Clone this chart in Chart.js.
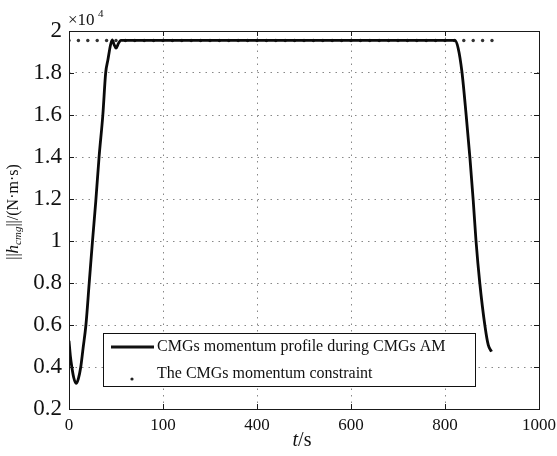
<!DOCTYPE html>
<html lang="en">
<head>
<meta charset="UTF-8">
<title>CMGs momentum</title>
<script src="https://cdn.jsdelivr.net/npm/chart.js"></script>
<style>
  html, body { margin: 0; padding: 0; background: #fff; }
  #wrap { width: 557px; height: 456px; }
</style>
</head>
<body>
<div id="wrap"><canvas id="momentumChart" width="557" height="456"></canvas></div>
<script>
// momentum norm of the CMG cluster, in units of 1e4 N·m·s
const profileTime = [0, 3, 6, 10, 15, 20, 25, 30, 36, 43, 50, 57, 64, 72, 78, 83, 88, 92, 96, 100, 105, 110,
  200, 400, 600, 800, 821, 828, 836, 845, 853, 860, 866, 874, 885, 892, 899];
const profileValue = [0.525, 0.45, 0.40, 0.35, 0.322, 0.345, 0.40, 0.49, 0.60, 0.80, 1.0, 1.19, 1.40, 1.60, 1.80, 1.865, 1.93, 1.958, 1.935, 1.918, 1.94, 1.955,
  1.955, 1.955, 1.955, 1.955, 1.955, 1.918, 1.806, 1.6, 1.397, 1.195, 1.0, 0.8, 0.595, 0.505, 0.473];

// constraint samples
const constraintTime = [0, 20, 40, 60, 80, 100, 120, 140, 160, 180, 200, 220, 240, 260, 280, 300, 320, 340, 360, 380,
  400, 420, 440, 460, 480, 500, 520, 540, 560, 580, 600, 620, 640, 660, 680, 700, 720, 740, 760, 780,
  800, 820, 840, 860, 880, 900];
const constraintValue = 1.955;

const xTickValues = [0, 200, 400, 600, 800, 1000];
const xTickLabels = ['0', '100', '400', '600', '800', '1000'];
const yTickValues = [0.2, 0.4, 0.6, 0.8, 1, 1.2, 1.4, 1.6, 1.8, 2];
const yTickLabels = ['0.2', '0.4', '0.6', '0.8', '1', '1.2', '1.4', '1.6', '1.8', '2'];

const seriesNames = ['CMGs momentum profile during CMGs AM', 'The CMGs momentum constraint'];

const serif = "'Liberation Serif', 'Times New Roman', serif";

// box, inward ticks, legend and axis titles
const decorations = {
  id: 'decorations',
  afterDraw(chart) {
    const { ctx, chartArea: a, scales } = chart;
    ctx.save();

    ctx.strokeStyle = '#1a1a1a';
    ctx.lineWidth = 1;
    ctx.beginPath();
    xTickValues.forEach(v => {
      const x = Math.round(scales.x.getPixelForValue(v)) + 0.5;
      ctx.moveTo(x, a.bottom); ctx.lineTo(x, a.bottom - 5);
      ctx.moveTo(x, a.top); ctx.lineTo(x, a.top + 5);
    });
    yTickValues.forEach(v => {
      const y = Math.round(scales.y.getPixelForValue(v)) + 0.5;
      ctx.moveTo(a.left, y); ctx.lineTo(a.left + 5, y);
      ctx.moveTo(a.right, y); ctx.lineTo(a.right - 5, y);
    });
    ctx.stroke();
    ctx.strokeRect(Math.round(a.left) + 0.5, Math.round(a.top) + 0.5,
      Math.round(a.right - a.left), Math.round(a.bottom - a.top));

    // legend
    const lx = 103.5, ly = 333.5, lw = 372, lh = 53;
    ctx.fillStyle = '#fff';
    ctx.fillRect(lx, ly, lw, lh);
    ctx.strokeStyle = '#111';
    ctx.strokeRect(lx, ly, lw, lh);
    ctx.lineWidth = 2.8;
    ctx.beginPath();
    ctx.moveTo(111, 347); ctx.lineTo(154, 347);
    ctx.stroke();
    ctx.fillStyle = '#222';
    ctx.beginPath();
    ctx.arc(132, 379, 1.6, 0, Math.PI * 2);
    ctx.fill();
    ctx.fillStyle = '#111';
    ctx.font = '16px ' + serif;
    ctx.textBaseline = 'middle';
    ctx.textAlign = 'left';
    ctx.fillText(seriesNames[0], 157, 347);
    ctx.fillText(seriesNames[1], 157, 374);

    // exponent over the y axis
    ctx.textBaseline = 'alphabetic';
    ctx.font = '17px ' + serif;
    ctx.fillText('×10', 68, 25);
    ctx.font = '11px ' + serif;
    ctx.fillText('4', 98, 17);

    // x title: t/s
    ctx.font = 'italic 20px ' + serif;
    const tW = ctx.measureText('t').width;
    ctx.font = '20px ' + serif;
    const sW = ctx.measureText('/s').width;
    let x0 = 302 - (tW + sW) / 2;
    ctx.font = 'italic 20px ' + serif;
    ctx.fillText('t', x0, 446);
    ctx.font = '20px ' + serif;
    ctx.fillText('/s', x0 + tW, 446);

    // y title: ||h_cmg||/(N·m·s)
    const parts = [
      { t: '||', f: '16px ' + serif, dy: 0 },
      { t: 'h', f: 'italic 17px ' + serif, dy: 0 },
      { t: 'cmg', f: 'italic 11px ' + serif, dy: 3 },
      { t: '||/(N·m·s)', f: '16px ' + serif, dy: 0 }
    ];
    let total = 0;
    parts.forEach(p => { ctx.font = p.f; p.w = ctx.measureText(p.t).width; total += p.w; });
    ctx.translate(18, 212);
    ctx.rotate(-Math.PI / 2);
    let px = -total / 2;
    parts.forEach(p => {
      ctx.font = p.f;
      ctx.fillText(p.t, px, p.dy);
      px += p.w;
    });

    ctx.restore();
  }
};

new Chart(document.getElementById('momentumChart'), {
  type: 'scatter',
  data: {
    datasets: [
      {
        label: seriesNames[0],
        data: profileTime.map((t, i) => ({ x: t, y: profileValue[i] })),
        showLine: true,
        borderColor: '#0a0a0a',
        borderWidth: 2.8,
        pointRadius: 0,
        cubicInterpolationMode: 'monotone',
        order: 0
      },
      {
        label: seriesNames[1],
        data: constraintTime.map(t => ({ x: t, y: constraintValue })),
        showLine: false,
        pointRadius: 1.7,
        pointBorderWidth: 0,
        pointBackgroundColor: '#333',
        order: 1
      }
    ]
  },
  options: {
    responsive: false,
    animation: false,
    layout: { padding: { top: 31, right: 18, left: 0, bottom: 0 } },
    plugins: {
      legend: { display: false },
      tooltip: { enabled: false }
    },
    scales: {
      x: {
        type: 'linear',
        min: 0,
        max: 1000,
        afterBuildTicks: s => { s.ticks = xTickValues.map(v => ({ value: v })); },
        afterFit: s => { s.height = 47; s.paddingLeft = 0; s.paddingRight = 0; },
        ticks: {
          callback: (v, i) => xTickLabels[i],
          font: { family: serif, size: 17 },
          color: '#111',
          padding: 6,
          maxRotation: 0
        },
        grid: { color: '#888', lineWidth: 1, drawTicks: false },
        border: { display: false, dash: [1.5, 5] }
      },
      y: {
        type: 'linear',
        min: 0.2,
        max: 2,
        afterBuildTicks: s => { s.ticks = yTickValues.map(v => ({ value: v })); },
        afterFit: s => { s.width = 69; s.paddingTop = 0; s.paddingBottom = 0; },
        ticks: {
          callback: (v, i) => yTickLabels[i],
          font: { family: serif, size: 23 },
          color: '#111',
          padding: 7
        },
        grid: { color: '#888', lineWidth: 1, drawTicks: false },
        border: { display: false, dash: [1.5, 5] }
      }
    }
  },
  plugins: [decorations]
});
</script>
</body>
</html>
